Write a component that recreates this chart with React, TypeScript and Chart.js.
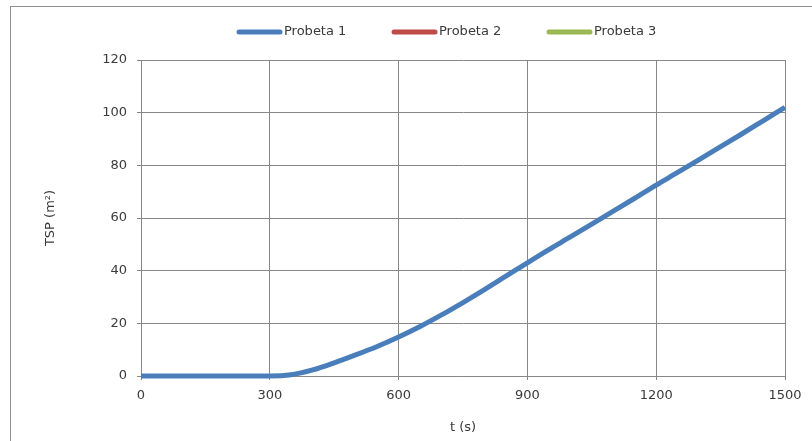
import { useEffect, useRef } from 'react';
import { Chart, registerables } from 'chart.js';

Chart.register(...registerables);

const TIME_S = [0, 50, 100, 150, 200, 250, 300, 350, 400, 450, 500, 550, 600, 650, 700, 750, 800, 850, 900, 950, 1000, 1050, 1100, 1150, 1200, 1250, 1300, 1350, 1400, 1450, 1500];
const PROBETA_1 = [0, 0, 0, 0, 0, 0, 0, 0.5, 2.3, 5, 8, 11.2, 14.8, 18.8, 23.2, 27.9, 32.8, 37.9, 43, 48, 52.8, 57.7, 62.6, 67.5, 72.5, 77.3, 82.2, 87.1, 92, 97, 102];
const PROBETA_2: number[] = [];
const PROBETA_3: number[] = [];
const SERIES_LABELS = ['Probeta 1', 'Probeta 2', 'Probeta 3'];
const SERIES_COLORS = ['#4A7EBB', '#BE4B48', '#98B954'];
const X_TICKS = [0, 300, 600, 900, 1200, 1500];
const Y_TICKS = [0, 20, 40, 60, 80, 100, 120];
const X_TITLE = 't (s)';
const Y_TITLE = 'TSP (m²)';

const FONT = '"DejaVu Sans", sans-serif';
const TEXT_COLOR = '#3a3a3a';
const GRID_COLOR = '#878787';

const legendPlugin = {
  id: 'customLegend',
  afterDraw(chart: any) {
    const ctx = chart.ctx;
    ctx.save();
    ctx.font = `13px ${FONT}`;
    ctx.textBaseline = 'middle';
    ctx.textAlign = 'left';
    const y = 32;
    let x = 237;
    chart.data.datasets.forEach((ds: any) => {
      ctx.strokeStyle = ds.borderColor;
      ctx.lineWidth = 5;
      ctx.lineCap = 'round';
      ctx.beginPath();
      ctx.moveTo(x + 2, y);
      ctx.lineTo(x + 43, y);
      ctx.stroke();
      ctx.fillStyle = TEXT_COLOR;
      ctx.fillText(ds.label, x + 47, y);
      x += 155;
    });
    ctx.restore();
  },
};

export default function App() {
  const ref = useRef<HTMLCanvasElement | null>(null);

  useEffect(() => {
    if (!ref.current) return;
    const series = [PROBETA_1, PROBETA_2, PROBETA_3];
    const chart = new Chart(ref.current, {
      type: 'line',
      data: {
        datasets: series.map((vals, i) => ({
          label: SERIES_LABELS[i],
          data: vals.map((v, j) => ({ x: TIME_S[j], y: v })),
          borderColor: SERIES_COLORS[i],
          backgroundColor: SERIES_COLORS[i],
          borderWidth: 5,
          pointRadius: 0,
          cubicInterpolationMode: 'monotone' as const,
          clip: false as any,
        })),
      },
      options: {
        responsive: false,
        animation: false,
        layout: { padding: { top: 60, right: 27, bottom: 0, left: 0 } },
        plugins: {
          legend: { display: false },
          tooltip: { enabled: false },
        },
        scales: {
          x: {
            type: 'linear',
            min: 0,
            max: 1500,
            afterBuildTicks: (s: any) => {
              s.ticks = X_TICKS.map((v) => ({ value: v }));
            },
            afterFit: (s: any) => {
              s.height = 65;
            },
            grid: { color: GRID_COLOR, lineWidth: 1, tickLength: 4, drawTicks: true },
            border: { color: GRID_COLOR, width: 1 },
            ticks: {
              color: TEXT_COLOR,
              font: { family: FONT, size: 13 },
              padding: 8,
              maxRotation: 0,
              callback: (v: any) => String(v),
            },
            title: {
              display: true,
              text: X_TITLE,
              color: TEXT_COLOR,
              font: { family: FONT, size: 13 },
              padding: { top: 0, bottom: 6 },
            },
          },
          y: {
            type: 'linear',
            min: 0,
            max: 120,
            afterBuildTicks: (s: any) => {
              s.ticks = Y_TICKS.map((v) => ({ value: v }));
            },
            afterFit: (s: any) => {
              s.width = 141;
            },
            grid: { color: GRID_COLOR, lineWidth: 1, tickLength: 4, drawTicks: true },
            border: { color: GRID_COLOR, width: 1 },
            ticks: {
              color: TEXT_COLOR,
              font: { family: FONT, size: 13 },
              padding: 10,
              callback: (v: any) => String(v),
            },
            title: {
              display: true,
              text: Y_TITLE,
              color: TEXT_COLOR,
              font: { family: FONT, size: 13 },
              padding: { top: 43, bottom: 0 },
            },
          },
        },
      },
      plugins: [legendPlugin],
    });
    return () => chart.destroy();
  }, []);

  return (
    <div style={{ position: 'fixed', left: 0, top: 0, width: 812, height: 441, overflow: 'hidden', background: '#fff' }}>
      <div style={{ position: 'absolute', left: 10, top: 6, width: 900, height: 500, border: '1px solid #8e8e8e' }} />
      <canvas ref={ref} width={812} height={441} style={{ position: 'absolute', left: 0, top: 0 }} />
    </div>
  );
}
